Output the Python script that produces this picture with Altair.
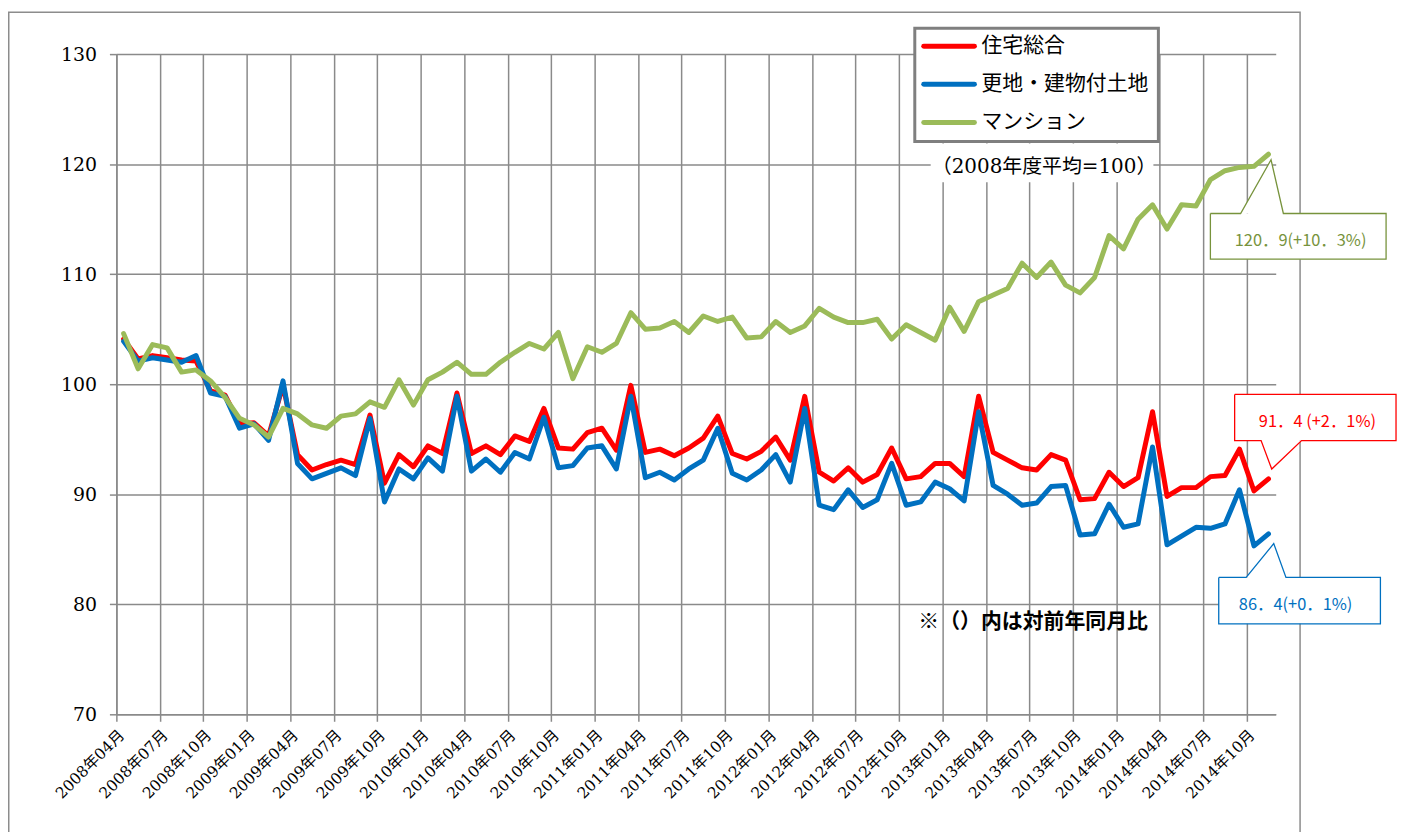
import json
import pandas as pd
import altair as alt

# ---------------- data ----------------
tick_labels = [
    "2008年04月", "2008年07月", "2008年10月", "2009年01月", "2009年04月", "2009年07月", "2009年10月",
    "2010年01月", "2010年04月", "2010年07月", "2010年10月", "2011年01月", "2011年04月", "2011年07月",
    "2011年10月", "2012年01月", "2012年04月", "2012年07月", "2012年10月", "2013年01月", "2013年04月",
    "2013年07月", "2013年10月", "2014年01月", "2014年04月", "2014年07月", "2014年10月",
]
series_names = ["住宅総合", "更地・建物付土地", "マンション"]
series_colors = ["#FF0000", "#0070C0", "#9BBB59"]

# monthly index, Apr 2008 .. Nov 2014 (2008年度平均=100)
jutaku = [
    104.1, 102.3, 102.6, 102.4, 102.2, 102.1, 99.4, 99.0, 96.4, 96.5,
    95.3, 99.9, 93.6, 92.2, 92.7, 93.1, 92.7, 97.2, 91.0, 93.6,
    92.5, 94.4, 93.7, 99.2, 93.7, 94.4, 93.6, 95.3, 94.8, 97.8,
    94.2, 94.1, 95.6, 96.0, 94.0, 99.9, 93.8, 94.1, 93.5, 94.2,
    95.1, 97.1, 93.7, 93.2, 93.9, 95.2, 93.1, 98.9, 92.0, 91.2,
    92.4, 91.1, 91.8, 94.2, 91.4, 91.6, 92.8, 92.8, 91.6, 98.9,
    93.8, 93.1, 92.4, 92.2, 93.6, 93.1, 89.5, 89.6, 92.0, 90.7,
    91.5, 97.5, 89.8, 90.6, 90.6, 91.6, 91.7, 94.1, 90.3, 91.4,
]
sarachi = [
    103.9, 102.1, 102.4, 102.2, 102.0, 102.6, 99.2, 98.9, 96.0, 96.4,
    94.9, 100.3, 92.8, 91.4, 91.9, 92.4, 91.7, 96.9, 89.3, 92.3,
    91.4, 93.3, 92.1, 98.9, 92.1, 93.2, 92.0, 93.8, 93.2, 97.0,
    92.4, 92.6, 94.2, 94.4, 92.3, 98.9, 91.5, 92.0, 91.3, 92.3,
    93.1, 96.0, 91.9, 91.3, 92.2, 93.6, 91.1, 97.8, 89.0, 88.6,
    90.4, 88.8, 89.5, 92.8, 89.0, 89.3, 91.1, 90.5, 89.4, 97.5,
    90.8, 90.0, 89.0, 89.2, 90.7, 90.8, 86.3, 86.4, 89.1, 87.0,
    87.3, 94.3, 85.4, 86.2, 87.0, 86.9, 87.3, 90.4, 85.3, 86.4,
]
mansion = [
    104.6, 101.4, 103.6, 103.3, 101.1, 101.3, 100.3, 98.8, 96.9, 96.3,
    95.2, 97.8, 97.3, 96.3, 96.0, 97.1, 97.3, 98.4, 97.9, 100.4,
    98.1, 100.4, 101.1, 102.0, 100.9, 100.9, 102.0, 102.9, 103.7, 103.2,
    104.7, 100.5, 103.4, 102.9, 103.7, 106.5, 105.0, 105.1, 105.7, 104.7,
    106.2, 105.7, 106.1, 104.2, 104.3, 105.7, 104.7, 105.3, 106.9, 106.1,
    105.6, 105.6, 105.9, 104.1, 105.4, 104.7, 104.0, 107.0, 104.8, 107.5,
    108.1, 108.7, 111.0, 109.7, 111.1, 109.0, 108.3, 109.7, 113.5, 112.3,
    115.0, 116.3, 114.1, 116.3, 116.2, 118.6, 119.4, 119.7, 119.8, 120.9,
]
n_months = len(jutaku)

note_base = "（2008年度平均=100）"
note_yoy = "※（）内は対前年同月比"
callout_texts = ["120．9(+10．3%)", "91．4 (+2．1%)", "86．4(+0．1%)"]

rows = []
for name, vals in zip(series_names, [jutaku, sarachi, mansion]):
    for i, v in enumerate(vals):
        rows.append({"series": name, "m": i + 0.5, "value": v})
df = pd.DataFrame(rows)

# ---------------- layout ----------------
W, H = 1166, 664
OX, OY = 117, 52          # page position of the plot origin
PAD_L, PAD_T = OX - 8, OY - 8
PAD_R = 1408 - 8 - PAD_L - W
PAD_B = 832 - 8 - PAD_T - H
GRID = "#8a8a8a"
SERIF = "DejaVu Serif, Noto Sans CJK JP"
GOTHIC = "Noto Sans CJK JP"


def px(x):
    return x - OX


def py(y):
    return y - OY


label_expr = json.dumps(tick_labels, ensure_ascii=False) + "[round(datum.value/3)]"

x_enc = alt.X(
    "m:Q",
    scale=alt.Scale(domain=[0, n_months], nice=False, zero=False),
    axis=alt.Axis(
        values=list(range(0, n_months - 1, 3)), title=None, grid=True,
        gridColor=GRID, gridWidth=1.5, tickSize=7, tickColor=GRID, tickWidth=1.5,
        domainColor=GRID, domainWidth=1.5, labelExpr=label_expr, labelAngle=315,
        labelAlign="right", labelBaseline="middle", labelOffset=5, labelPadding=11,
        labelFont=SERIF, labelFontSize=15.5, labelColor="black",
        labelOverlap=False, labelBound=False, labelFlush=False,
    ),
)
y_enc = alt.Y(
    "value:Q",
    scale=alt.Scale(domain=[70, 130], nice=False, zero=False),
    axis=alt.Axis(
        values=[70, 80, 90, 100, 110, 120, 130], title=None, grid=True,
        gridColor=GRID, gridWidth=1.5, tickSize=7, tickColor=GRID, tickWidth=1.5,
        domainColor=GRID, domainWidth=1.5, labelFont=SERIF, labelFontSize=19,
        labelColor="black", labelPadding=13,
    ),
)
color_scale = alt.Scale(domain=series_names, range=series_colors)
one = pd.DataFrame({"a": [0]})

layers = []

# outer chart frame
layers.append(
    alt.Chart(one).mark_rect(fillOpacity=0, stroke="#8c8c8c", strokeWidth=1.5).encode(
        x=alt.value(px(8.75)), x2=alt.value(px(1307.5)), y=alt.value(py(10)), y2=alt.value(py(850)))
)

# data lines (drawn red, blue, green like the original)
for name in series_names:
    layers.append(
        alt.Chart(df).transform_filter(alt.datum.series == name)
        .mark_line(strokeWidth=5, strokeJoin="round", strokeCap="round")
        .encode(x=x_enc, y=y_enc, color=alt.Color("series:N", scale=color_scale, legend=None))
    )

# legend box
legend_df = pd.DataFrame({"series": series_names, "ly": [py(44 + 38.4 * k) for k in range(len(series_names))]})
layers.append(
    alt.Chart(one).mark_rect(fill="white", stroke="#7f7f7f", strokeWidth=3).encode(
        x=alt.value(px(920)), x2=alt.value(px(1165)), y=alt.value(py(26)), y2=alt.value(py(140)))
)
layers.append(
    alt.Chart(legend_df).mark_rule(strokeWidth=5, strokeCap="round").encode(
        x=alt.value(px(929)), x2=alt.value(px(980)),
        y=alt.Y("ly:Q", scale=None, axis=None),
        color=alt.Color("series:N", scale=color_scale, legend=None),
    )
)
layers.append(
    alt.Chart(legend_df).mark_text(align="left", baseline="middle", font=GOTHIC, fontSize=21, color="black").encode(
        x=alt.value(px(987)), y=alt.Y("ly:Q", scale=None, axis=None), text="series:N")
)

# white background behind base note + note texts
layers.append(
    alt.Chart(one).mark_rect(color="white").encode(
        x=alt.value(px(936)), x2=alt.value(px(1160)), y=alt.value(py(142)), y2=alt.value(py(181)))
)
layers.append(
    alt.Chart(pd.DataFrame({"t": [note_base]})).mark_text(
        font=SERIF, fontSize=20, color="black", align="center", baseline="middle"
    ).encode(x=alt.value(px(1050)), y=alt.value(py(166)), text="t:N")
)
layers.append(
    alt.Chart(pd.DataFrame({"t": [note_yoy]})).mark_text(
        font=GOTHIC, fontSize=21, fontWeight="bold", color="black", align="center", baseline="middle"
    ).encode(x=alt.value(px(1039)), y=alt.value(py(623)), text="t:N")
)

# callouts (box, pointer, text)
callouts = [
    dict(color="#77933C", text=callout_texts[0], box=(1217.3, 212.3, 1394, 258.3),
         legs=[(1247.7, 212.3), (1278.3, 158.3), (1290.7, 212.3)], top=True, txt=(1308, 240)),
    dict(color="#FF0000", text=callout_texts[1], box=(1241.7, 394.3, 1404, 440.7),
         legs=[(1268.3, 440.7), (1279, 469.3), (1309, 440.7)], top=False, txt=(1325, 421.7)),
    dict(color="#0070C0", text=callout_texts[2], box=(1225.7, 578.3, 1388.3, 625),
         legs=[(1253.3, 578.3), (1281, 544.3), (1293.3, 578.3)], top=True, txt=(1303, 606)),
]
for c in callouts:
    x0, y0, x1, y1 = c["box"]
    l0, tip, l2 = c["legs"]
    layers.append(
        alt.Chart(one).mark_rect(color="white").encode(
            x=alt.value(px(x0)), x2=alt.value(px(x1)), y=alt.value(py(y0)), y2=alt.value(py(y1)))
    )
    tri = pd.DataFrame({
        "px": [px(l0[0]), px(tip[0]), px(l2[0])],
        "py": [py(l0[1]), py(tip[1]), py(l2[1])],
        "pb": [py(l0[1])] * 3,
    })
    layers.append(
        alt.Chart(tri).mark_area(color="white").encode(
            x=alt.X("px:Q", scale=None, axis=None),
            y=alt.Y("py:Q", scale=None, axis=None),
            y2="pb:Q",
        )
    )
    if c["top"]:
        pts = [(x0, y0), l0, tip, l2, (x1, y0), (x1, y1), (x0, y1), (x0, y0)]
    else:
        pts = [(x0, y0), (x1, y0), (x1, y1), l2, tip, l0, (x0, y1), (x0, y0)]
    outline = pd.DataFrame({
        "k": list(range(len(pts))),
        "px": [px(p[0]) for p in pts],
        "py": [py(p[1]) for p in pts],
    })
    layers.append(
        alt.Chart(outline).mark_line(color=c["color"], strokeWidth=1.3).encode(
            x=alt.X("px:Q", scale=None, axis=None),
            y=alt.Y("py:Q", scale=None, axis=None),
            order="k:Q",
        )
    )
    layers.append(
        alt.Chart(pd.DataFrame({"t": [c["text"]]})).mark_text(
            font=GOTHIC, fontSize=16.5, color=c["color"], align="center", baseline="middle"
        ).encode(x=alt.value(px(c["txt"][0])), y=alt.value(py(c["txt"][1])), text="t:N")
    )

chart = (
    alt.layer(*layers)
    .properties(
        width=W, height=H,
        padding={"left": PAD_L, "top": PAD_T, "right": PAD_R, "bottom": PAD_B},
        autosize=alt.AutoSizeParams(type="none"),
        background="white",
    )
    .configure_view(strokeOpacity=0)
)

chart.save("out.html", embed_options={"renderer": "svg", "actions": False})
